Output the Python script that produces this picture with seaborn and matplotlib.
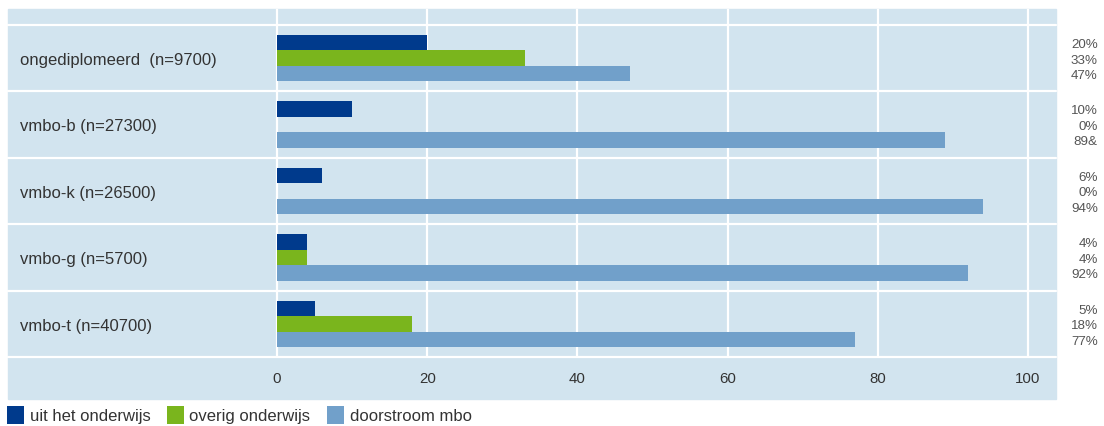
import pandas as pd
import seaborn as sns
import matplotlib.pyplot as plt
from matplotlib.patches import Patch, Rectangle

categories = ['ongediplomeerd  (n=9700)', 'vmbo-b (n=27300)', 'vmbo-k (n=26500)',
              'vmbo-g (n=5700)', 'vmbo-t (n=40700)']
series = ['uit het onderwijs', 'overig onderwijs', 'doorstroom mbo']
uit_onderwijs = [20, 10, 6, 4, 5]
overig_onderwijs = [33, 0, 0, 4, 18]
doorstroom_mbo = [47, 89, 94, 92, 77]
pct_labels = [['20%', '33%', '47%'],
              ['10%', '0%', '89&'],
              ['6%', '0%', '94%'],
              ['4%', '4%', '92%'],
              ['5%', '18%', '77%']]
xticks = [0, 20, 40, 60, 80, 100]

colors = ['#003a8c', '#7ab51d', '#71a0ca']
panel = '#d2e4ef'
W, H = 1104, 427

rows = []
for name, vals in zip(series, [uit_onderwijs, overig_onderwijs, doorstroom_mbo]):
    for cat, v in zip(categories, vals):
        rows.append({'cat': cat, 'serie': name, 'value': v})
df = pd.DataFrame(rows)

sns.set_theme(style='white')
plt.rcParams['font.family'] = ['Liberation Sans', 'DejaVu Sans']

fig = plt.figure(figsize=(W / 100, H / 100), dpi=100)
fig.patch.set_facecolor('white')
# panel background incl. the strip with the tick labels
fig.patches.append(Rectangle((8 / W, 1 - 400 / H), 1048 / W, 390 / H,
                             transform=fig.transFigure, color=panel, zorder=-5))

ax = fig.add_axes([8 / W, 1 - 358 / H, 1048 / W, 348 / H])
ax.set_zorder(2)
ax.set_facecolor(panel)

sns.barplot(data=df, y='cat', x='value', hue='serie', orient='h',
            palette=colors, width=0.7, saturation=1, linewidth=0,
            legend=False, ax=ax)

px = (1028 - 277) / 100
ax.set_xlim((8 - 277) / px, (1056 - 277) / px)
ax.set_ylim(4.5, -0.5 - 16 / 66.4)

for s in ax.spines.values():
    s.set_visible(False)
ax.set_yticks([])
ax.set_ylabel('')
ax.set_xlabel('')
ax.set_xticks(xticks)
ax.set_xticklabels([str(t) for t in xticks])
ax.tick_params(axis='x', length=0, pad=10, labelsize=10.8, labelcolor='#333333')
ax.xaxis.grid(True, color='white', lw=1.6)
ax.set_axisbelow(True)
for b in [i - 0.5 for i in range(len(categories) + 1)]:
    ax.axhline(b, color='white', lw=1.6, clip_on=False, zorder=0.5)

for i, cat in enumerate(categories):
    ax.text(-34.2, i + 0.02, cat, ha='left', va='center', fontsize=12, color='#333333')
    for j, cont in enumerate(ax.containers):
        bar = cont[i]
        yc = bar.get_y() + bar.get_height() / 2
        ax.text(109.3, yc + 0.02, pct_labels[i][j], ha='right', va='center',
                fontsize=9.6, color='#555555', clip_on=False)

handles = [Patch(facecolor=c, edgecolor='none') for c in colors]
fig.legend(handles, series, loc='lower left', bbox_to_anchor=(-3 / W, -0.018),
           ncol=3, frameon=False, fontsize=12, handlelength=1.0, handleheight=1.3,
           handletextpad=0.35, columnspacing=1.0, borderaxespad=0.2,
           labelcolor='#333333')

fig.savefig('out.png', dpi=100)
